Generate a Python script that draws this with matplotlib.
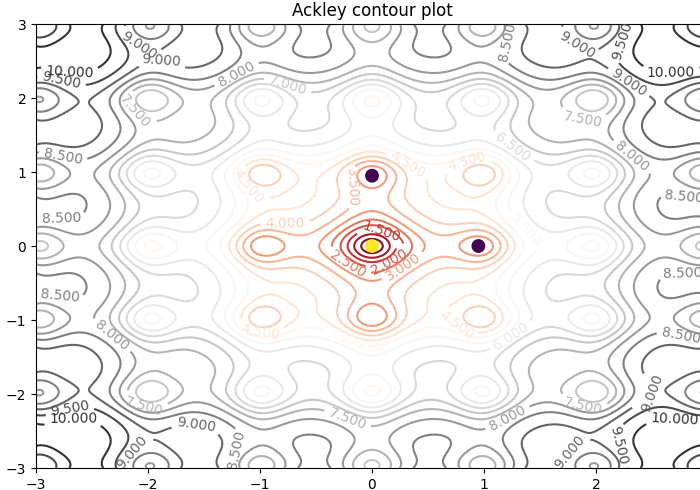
import numpy as np
import matplotlib
matplotlib.use('Agg')
import matplotlib.pyplot as plt

# grid range of the Ackley surface
x_range = [-3, 3]
y_range = [-3, 3]
n_grid = 400
n_levels = 20

# highlighted points (global minimum and two nearby local minima)
pts_x = [0.0, 0.0, 0.95]
pts_y = [0.0, 0.95, 0.0]
pts_c = [1.0, 0.0, 0.0]


def ackley(x, y):
    a = -20 * np.exp(-0.2 * np.sqrt(0.5 * (x ** 2 + y ** 2)))
    b = -np.exp(0.5 * (np.cos(2 * np.pi * x) + np.cos(2 * np.pi * y)))
    return a + b + np.e + 20


xs = np.linspace(x_range[0], x_range[1], n_grid)
ys = np.linspace(y_range[0], y_range[1], n_grid)
X, Y = np.meshgrid(xs, ys)
Z = ackley(X, Y)

fig = plt.figure(figsize=(7, 4.9), dpi=100)
ax = fig.add_axes([36 / 700, 22 / 490, 672 / 700, 444 / 490])

cs = ax.contour(X, Y, Z, levels=n_levels, cmap='RdGy')
ax.clabel(cs, inline=True, fontsize=10, fmt='%1.3f')
ax.scatter(pts_x, pts_y, c=pts_c, cmap='viridis', s=80, zorder=3)

ax.set_xlim(x_range)
ax.set_ylim(y_range)
ax.set_title('Ackley contour plot')

plt.savefig('out.png', dpi=100)
plt.close()
